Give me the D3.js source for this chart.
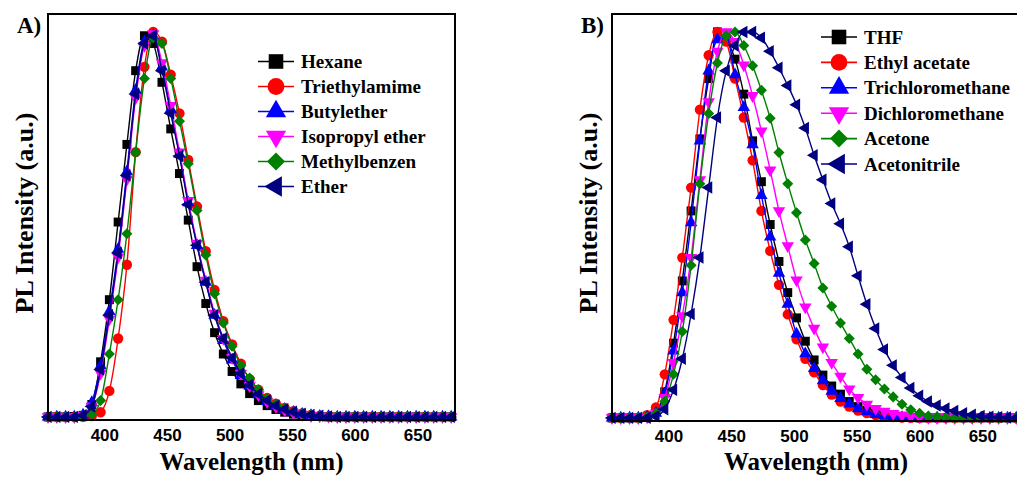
<!DOCTYPE html>
<html><head><meta charset="utf-8">
<script src="https://cdn.jsdelivr.net/npm/d3@7"></script>
<style>body{margin:0;background:#fff} svg{display:block}</style>
</head><body>
<svg id="chart" width="1017" height="477"></svg>
<script>
// ---- data ----
const wavelengths = [355,362,369,376,383,390,397,404,411,418,425,432,439,446,453,460,467,474,481,488,495,502,509,516,523,530,537,544,551,558,565,572,579,586,593,600,607,614,621,628,635,642,649,656,663,670,677];
const xTickValues = [400,450,500,550,600,650];

const seriesNamesA = ["Hexane","Triethylamime","Butylether","Isopropyl ether","Methylbenzen","Ether"];
const hexane = [0.008,0.008,0.008,0.009,
  0.012,0.04,0.15,0.31,0.51,0.71,0.90,0.99,0.97,0.87,0.75,0.635,0.515,0.395,0.30,0.225,0.17,0.125,0.093,0.068,0.05,0.037,0.027,0.02,0.015,0.012,0.01,0.009,
  0.008,0.008,0.008,0.008,0.008,0.008,0.008,0.008,0.008,0.008,0.008,0.008,0.008,0.008,0.008];
const triethylamime = [0.008,0.008,0.008,0.008,
  0.008,0.01,0.02,0.075,0.21,0.40,0.69,0.91,1.0,0.975,0.89,0.79,0.67,0.55,0.435,0.335,0.255,0.195,0.145,0.105,0.078,0.057,0.042,0.031,0.023,0.017,0.013,0.011,
  0.009,0.008,0.008,0.008,0.008,0.008,0.008,0.008,0.008,0.008,0.008,0.008,0.008,0.008,0.008];
const butylether = [0.008,0.008,0.008,0.008,
  0.013,0.045,0.14,0.28,0.44,0.64,0.85,0.975,0.99,0.91,0.80,0.685,0.56,0.45,0.355,0.27,0.205,0.155,0.115,0.087,0.065,0.048,0.036,0.027,0.02,0.015,0.012,0.01,
  0.009,0.008,0.008,0.008,0.008,0.008,0.008,0.008,0.008,0.008,0.008,0.008,0.008,0.008,0.008];
const isopropylEther = [0.008,0.008,0.008,0.008,
  0.012,0.035,0.12,0.26,0.42,0.62,0.83,0.965,0.995,0.92,0.81,0.69,0.565,0.455,0.36,0.275,0.21,0.16,0.12,0.088,0.065,0.047,0.034,0.025,0.018,0.014,0.011,0.01,
  0.009,0.008,0.008,0.008,0.008,0.008,0.008,0.008,0.008,0.008,0.008,0.008,0.008,0.008,0.008];
const methylbenzen = [0.008,0.008,0.008,0.008,
  0.01,0.015,0.05,0.17,0.31,0.48,0.69,0.88,0.985,0.97,0.88,0.77,0.66,0.54,0.425,0.325,0.25,0.19,0.14,0.108,0.078,0.055,0.04,0.03,0.022,0.016,0.013,0.011,
  0.009,0.008,0.008,0.008,0.008,0.008,0.008,0.008,0.008,0.008,0.008,0.008,0.008,0.008,0.008];
const ether = [0.008,0.008,0.008,0.008,
  0.012,0.035,0.13,0.27,0.43,0.63,0.84,0.97,0.99,0.90,0.79,0.68,0.555,0.45,0.355,0.27,0.21,0.16,0.12,0.09,0.067,0.05,0.037,0.028,0.021,0.016,0.013,0.011,
  0.009,0.008,0.008,0.008,0.008,0.008,0.008,0.008,0.008,0.008,0.008,0.008,0.008,0.008,0.008];

const seriesNamesB = ["THF","Ethyl acetate","Trichloromethane","Dichloromethane","Acetone","Acetonitrile"];
const thf = [0.008,0.008,0.008,0.008,
  0.012,0.025,0.075,0.20,0.36,0.54,0.725,0.88,1.0,0.98,0.93,0.84,0.72,0.615,0.505,0.41,0.33,0.265,0.205,0.157,0.118,0.09,0.069,0.05,0.037,0.027,0.02,0.015,
  0.012,0.01,0.009,
  0.008,0.008,0.008,0.008,0.008,0.008,0.008,0.008,0.008,0.008,0.008,0.008];
const ethylAcetate = [0.008,0.008,0.008,0.008,
  0.015,0.035,0.12,0.26,0.42,0.60,0.80,0.94,1.0,0.975,0.88,0.78,0.67,0.54,0.437,0.35,0.274,0.21,0.16,0.125,0.092,0.068,0.05,0.037,0.027,0.02,0.015,0.012,
  0.01,0.009,0.008,
  0.008,0.008,0.008,0.008,0.008,0.008,0.008,0.008,0.008,0.008,0.008,0.008];
const trichloromethane = [0.008,0.008,0.008,0.008,
  0.01,0.02,0.07,0.18,0.33,0.51,0.72,0.90,0.98,0.99,0.89,0.806,0.71,0.58,0.473,0.38,0.30,0.224,0.173,0.135,0.104,0.077,0.058,0.044,0.032,0.024,0.017,0.013,
  0.011,0.009,0.008,
  0.008,0.008,0.008,0.008,0.008,0.008,0.008,0.008,0.008,0.008,0.008,0.008];
const dichloromethane = [0.008,0.008,0.008,0.008,
  0.01,0.02,0.06,0.15,0.27,0.42,0.62,0.82,0.95,1.0,0.975,0.915,0.836,0.745,0.645,0.54,0.45,0.362,0.293,0.238,0.19,0.15,0.115,0.082,0.06,0.043,0.032,0.025,
  0.019,0.015,0.012,
  0.01,0.009,0.008,0.008,0.008,0.008,0.008,0.008,0.008,0.008,0.008,0.008];
const acetone = [0.008,0.008,0.008,0.008,
  0.01,0.02,0.05,0.12,0.23,0.40,0.61,0.79,0.92,0.99,1.0,0.965,0.913,0.85,0.778,0.69,0.61,0.535,0.465,0.405,0.342,0.295,0.252,0.212,0.172,0.133,0.106,0.082,
  0.062,0.043,0.029,
  0.02,0.013,0.011,0.009,0.008,0.008,0.008,0.008,0.008,0.008,0.008,0.008];
const acetonitrile = [0.008,0.008,0.008,0.008,
  0.008,0.012,0.03,0.08,0.16,0.275,0.42,0.60,0.78,0.90,0.965,1.0,1.0,0.985,0.95,0.908,0.862,0.813,0.753,0.683,0.62,0.559,0.507,0.448,0.373,0.30,0.238,0.184,
  0.143,0.112,0.085,
  0.065,0.05,0.04,0.032,0.026,0.02,0.016,0.013,0.011,0.01,0.009,0.008];

const seriesColors = ["#000000","#ff0000","#0000ff","#ff00ff","#008000","#000080"];
const seriesSymbols = ["square","circle","triangle","triangleDown","diamond","triangleLeft"];

// ---- drawing ----
const svg = d3.select("#chart");
svg.append("rect").attr("width",1017).attr("height",477).attr("fill","#fff");

function symbolPath(kind, size){
  const map = {square:d3.symbolSquare, circle:d3.symbolCircle, triangle:d3.symbolTriangle,
    triangleDown:d3.symbolTriangle, diamond:d3.symbolSquare, triangleLeft:d3.symbolTriangle};
  const scale = {square:1.25, circle:1.3, triangle:1.05, triangleDown:1.05, diamond:0.95, triangleLeft:1.05};
  return d3.symbol().type(map[kind]).size(size*scale[kind])();
}
function symbolRotate(kind){
  return kind==="triangleDown" ? 180 : kind==="diamond" ? 45 : kind==="triangleLeft" ? -90 : 0;
}

function drawPanel(cfg){
  const g = svg.append("g");
  const x = d3.scaleLinear().domain([355,680]).range([cfg.left,cfg.right]);
  const y = d3.scaleLinear().domain([0,1.046]).range([cfg.bottom,cfg.top]);
  const line = d3.line().x((d,i)=>x(wavelengths[i])).y(d=>y(d)).curve(d3.curveMonotoneX);

  cfg.series.forEach((vals,si)=>{
    const col = seriesColors[si], kind = seriesSymbols[si];
    g.append("path").datum(vals).attr("d",line).attr("fill","none")
      .attr("stroke",col).attr("stroke-width",1.4);
    g.selectAll(null).data(vals).enter().append("path")
      .attr("d",symbolPath(kind,64))
      .attr("transform",(d,i)=>`translate(${x(wavelengths[i])},${y(d)}) rotate(${symbolRotate(kind)})`)
      .attr("fill",col);
  });

  // frame
  g.append("rect").attr("x",cfg.left).attr("y",cfg.top)
    .attr("width",cfg.right-cfg.left).attr("height",cfg.bottom-cfg.top)
    .attr("fill","none").attr("stroke","#000").attr("stroke-width",2);

  // x axis labels
  const ax = g.append("g").attr("transform",`translate(0,${cfg.bottom})`)
    .call(d3.axisBottom(x).tickValues(xTickValues).tickSize(0).tickPadding(9));
  ax.select(".domain").remove();
  ax.selectAll("text").attr("font-family","'Liberation Sans', Arial, sans-serif")
    .attr("font-weight","bold").attr("font-size",17).attr("fill","#000");

  g.append("text").attr("x",(cfg.left+cfg.right)/2).attr("y",470)
    .attr("text-anchor","middle").attr("font-family","'Liberation Serif','Times New Roman',serif")
    .attr("font-weight","bold").attr("font-size",25).text("Wavelength (nm)");
  g.append("text").attr("transform",`translate(${cfg.ytitleX},213) rotate(-90)`)
    .attr("text-anchor","middle").attr("dominant-baseline","central")
    .attr("font-family","'Liberation Serif','Times New Roman',serif")
    .attr("font-weight","bold").attr("font-size",26).text("PL Intensity (a.u.)");
  g.append("text").attr("x",cfg.tagX).attr("y",33)
    .attr("font-family","'Liberation Serif','Times New Roman',serif")
    .attr("font-weight","bold").attr("font-size",23).text(cfg.tag);

  // legend
  const lg = g.append("g");
  cfg.names.forEach((nm,si)=>{
    const yy = cfg.legY + si*cfg.legStep;
    lg.append("line").attr("x1",cfg.legX).attr("x2",cfg.legX+36).attr("y1",yy).attr("y2",yy)
      .attr("stroke",seriesColors[si]).attr("stroke-width",1.6);
    lg.append("path").attr("d",symbolPath(seriesSymbols[si],170))
      .attr("transform",`translate(${cfg.legX+18},${yy}) rotate(${symbolRotate(seriesSymbols[si])})`)
      .attr("fill",seriesColors[si]);
    lg.append("text").attr("x",cfg.legX+43).attr("y",yy).attr("dominant-baseline","central")
      .attr("font-family","'Liberation Serif','Times New Roman',serif")
      .attr("font-weight","bold").attr("font-size",19).text(nm);
  });
}

drawPanel({left:48,right:455,top:14,bottom:420,ytitleX:24,tag:"A)",tagX:17,
  series:[hexane,triethylamime,butylether,isopropylEther,methylbenzen,ether],
  names:seriesNamesA,legX:258,legY:61.5,legStep:25});
drawPanel({left:612,right:1020,top:14,bottom:421,ytitleX:588,tag:"B)",tagX:581,
  series:[thf,ethylAcetate,trichloromethane,dichloromethane,acetone,acetonitrile],
  names:seriesNamesB,legX:821,legY:37,legStep:25.4});
</script>
</body></html>
